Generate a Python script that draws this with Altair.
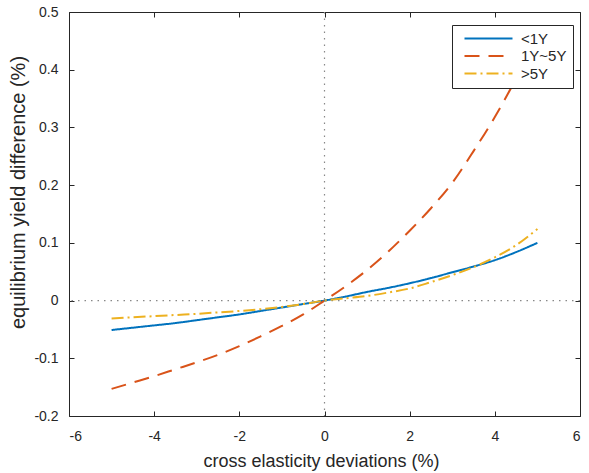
import altair as alt
import pandas as pd

# ---- data ----
x_vals = [-5, -4.5, -4, -3.5, -3, -2.5, -2, -1.5, -1, -0.5, 0,
          0.5, 1, 1.5, 2, 2.5, 3, 3.5, 4, 4.5, 5]
lt1y = [-0.051, -0.047, -0.043, -0.039, -0.034, -0.029, -0.024, -0.018, -0.012, -0.006, 0.0,
        0.007, 0.015, 0.022, 0.030, 0.039, 0.049, 0.059, 0.070, 0.084, 0.100]
y1to5 = [-0.153, -0.142, -0.131, -0.119, -0.107, -0.094, -0.079, -0.062, -0.044, -0.024, 0.0,
         0.025, 0.053, 0.085, 0.121, 0.160, 0.204, 0.259, 0.318, 0.385, 0.460]
gt5y = [-0.031, -0.029, -0.027, -0.025, -0.023, -0.0205, -0.018, -0.015, -0.011, -0.006, 0.0,
        0.004, 0.008, 0.014, 0.021, 0.032, 0.044, 0.058, 0.075, 0.096, 0.124]

series = ["<1Y", "1Y~5Y", ">5Y"]
colors = ["#0072BD", "#D95319", "#EDB120"]
dashes = [[1, 0], [15, 9], [12, 4, 2, 4]]
x_ticks = [-6, -4, -2, 0, 2, 4, 6]
y_ticks = [-0.2, -0.1, 0, 0.1, 0.2, 0.3, 0.4, 0.5]

rows = []
for name, vals in zip(series, [lt1y, y1to5, gt5y]):
    for i, (xv, yv) in enumerate(zip(x_vals, vals)):
        rows.append({"x": xv, "y": yv, "series": name, "order": i})
df = pd.DataFrame(rows)

FONT = "Liberation Sans"
INK = "#262626"
xscale = alt.Scale(domain=[-6, 6], nice=False, zero=False)
yscale = alt.Scale(domain=[-0.2, 0.5], nice=False, zero=False)

legend_props = dict(title=None, labelExpr="datum.label + '\u00a0'")

lines = alt.Chart(df).mark_line(strokeWidth=2, interpolate="monotone").encode(
    x=alt.X("x:Q", scale=xscale,
            axis=alt.Axis(values=x_ticks, title="cross elasticity deviations (%)",
                          grid=False, domain=False, tickSize=5, offset=-5,
                          labelPadding=13, labelExpr="'' + datum.value",
                          titleFontSize=18, titleX=252, titleY=50,
                          titleBaseline="middle", titleAlign="center")),
    y=alt.Y("y:Q", scale=yscale,
            axis=alt.Axis(values=y_ticks, title="equilibrium yield difference (%)",
                          grid=False, domain=False, tickSize=5, offset=-5,
                          labelPadding=11, labelExpr="'' + datum.value",
                          titleFontSize=20, titleX=-56, titleY=180, titleAngle=270,
                          titleBaseline="middle", titleAlign="center")),
    color=alt.Color("series:N", scale=alt.Scale(domain=series, range=colors),
                    legend=alt.Legend(**legend_props)),
    strokeDash=alt.StrokeDash("series:N", scale=alt.Scale(domain=series, range=dashes),
                              legend=alt.Legend(**legend_props)),
    order="order:Q",
)

vrule = alt.Chart(pd.DataFrame({"x": [0]})).mark_rule(
    color="#888888", strokeDash=[1.5, 5], strokeWidth=1.2
).encode(
    x=alt.X("x:Q", scale=xscale,
            axis=alt.Axis(orient="top", values=x_ticks, labels=False, title=None,
                          grid=False, domain=False, tickSize=5, offset=-5))
)

hrule = alt.Chart(pd.DataFrame({"y": [0]})).mark_rule(
    color="#888888", strokeDash=[1.5, 5], strokeWidth=1.2
).encode(
    y=alt.Y("y:Q", scale=yscale,
            axis=alt.Axis(orient="right", values=y_ticks, labels=False, title=None,
                          grid=False, domain=False, tickSize=5, offset=-5))
)

chart = alt.layer(vrule, hrule, lines).resolve_axis(
    x="independent", y="independent"
).properties(
    width=511, height=404,
    autosize=alt.AutoSizeParams(type="none"),
    padding={"left": 69, "top": 12, "right": 9, "bottom": 57},
    background="white",
).configure_view(
    stroke=INK, strokeWidth=1
).configure_axis(
    labelFont=FONT, titleFont=FONT, labelFontSize=14,
    labelColor=INK, titleColor=INK, tickColor=INK, titleFontWeight="normal",
).configure_legend(
    orient="none", legendX=383, legendY=13,
    strokeColor=INK, fillColor="white", padding=6,
    symbolType="M-0.167,0H7.833", symbolSize=144, symbolStrokeWidth=2,
    labelFont=FONT, labelFontSize=15, labelColor=INK, rowPadding=1.5,
    labelOffset=48,
)

chart.save("out.html", embed_options={"renderer": "svg", "actions": False})
